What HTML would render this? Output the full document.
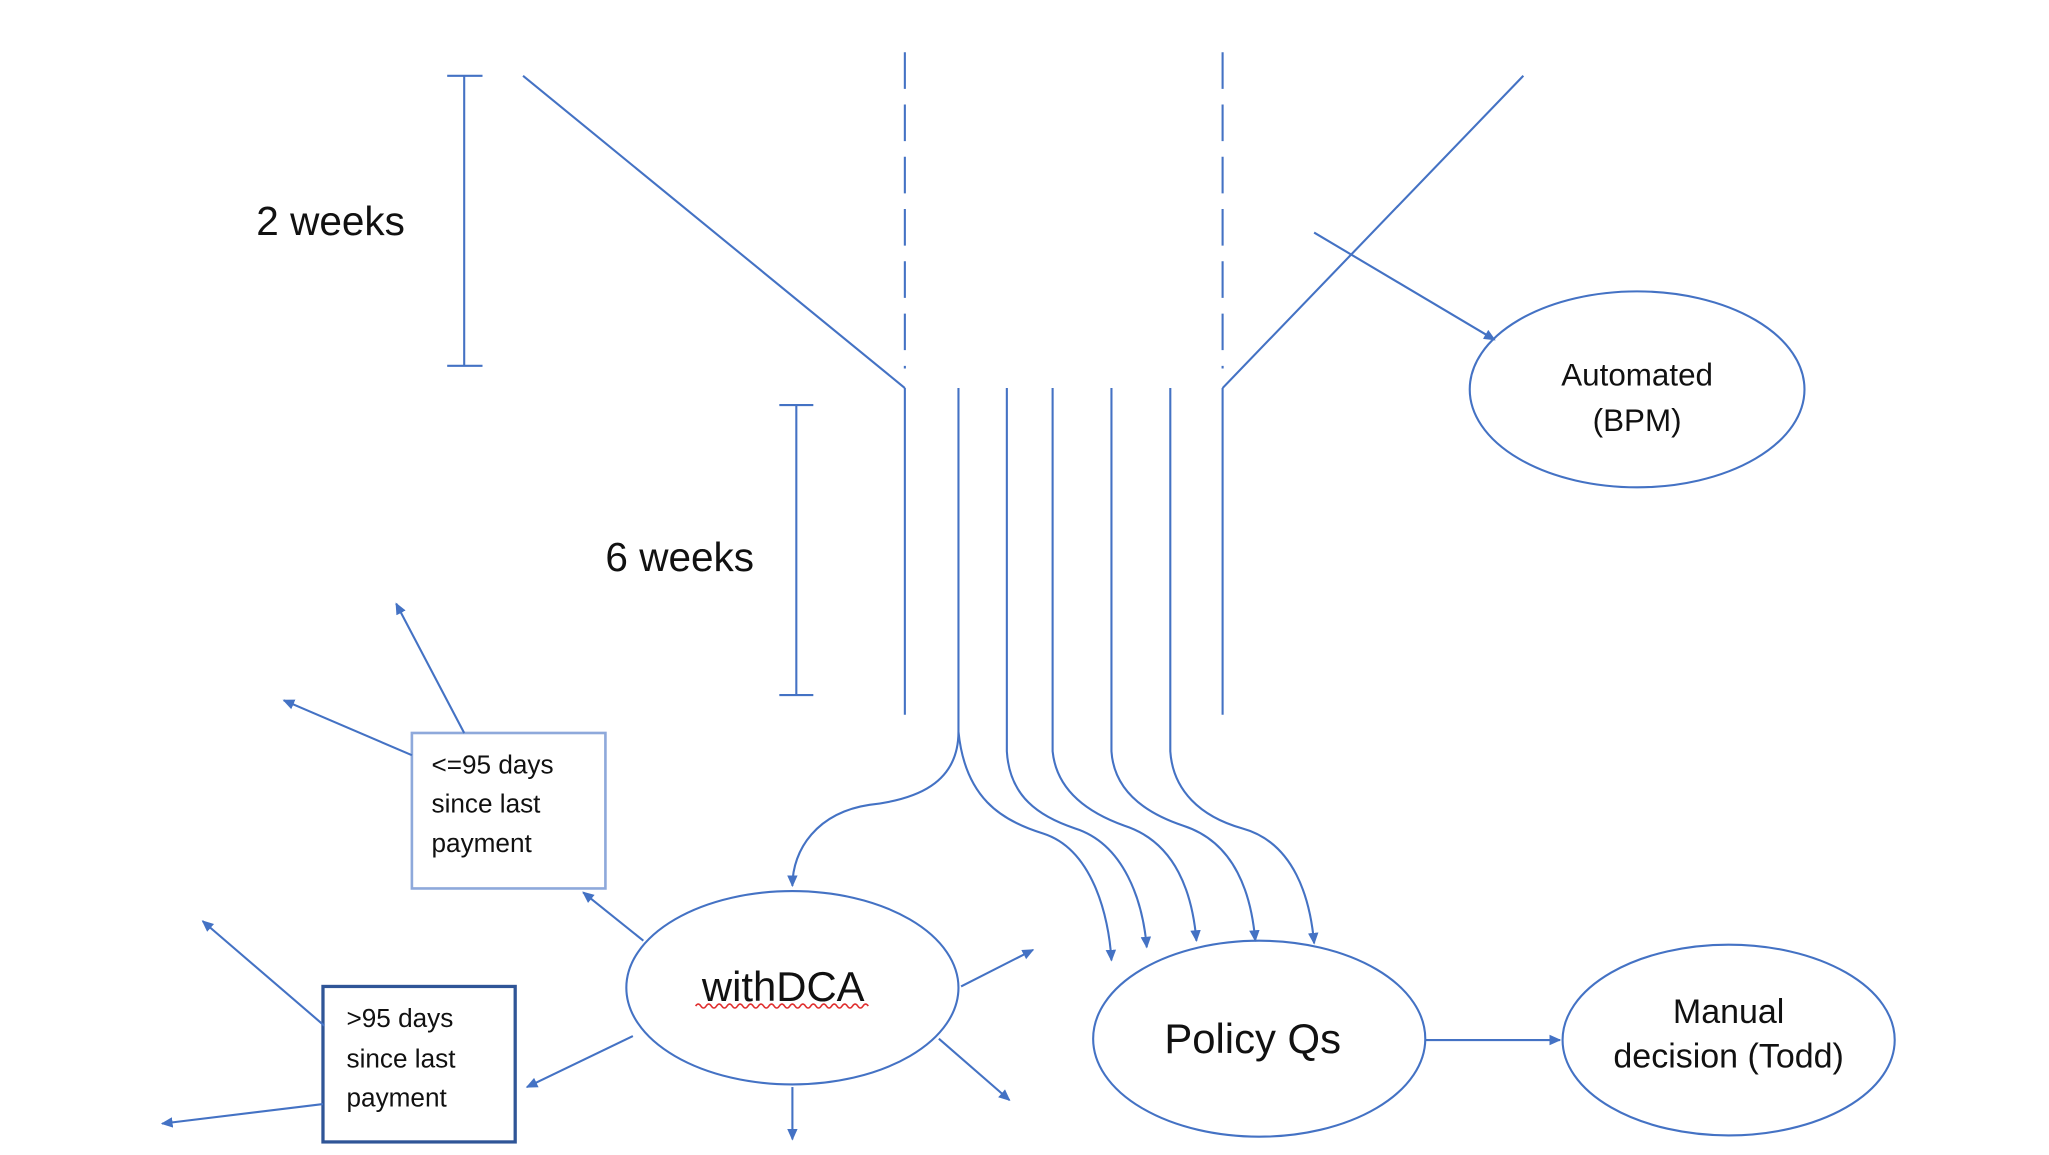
<!DOCTYPE html>
<html><head><meta charset="utf-8"><style>
html,body{margin:0;padding:0;background:#fff;}
svg{display:block;}
text{font-family:"Liberation Sans Narrow","Liberation Sans",sans-serif;fill:#111;}
</style></head><body>
<svg width="2049" height="1155" viewBox="0 0 1567 884" preserveAspectRatio="none" xmlns="http://www.w3.org/2000/svg">
<defs>
<marker id="a" markerWidth="10" markerHeight="10" refX="8" refY="5" orient="auto" markerUnits="userSpaceOnUse">
<path d="M0,1 L9,5 L0,9 Z" fill="#4472C4"/>
</marker>
</defs>
<g stroke="#4472C4" stroke-width="1.6" fill="none">
<line x1="355" y1="58" x2="355" y2="280"/>
<line x1="342" y1="58" x2="369" y2="58"/>
<line x1="342" y1="280" x2="369" y2="280"/>
<line x1="609" y1="310" x2="609" y2="532"/>
<line x1="596" y1="310" x2="622" y2="310"/>
<line x1="596" y1="532" x2="622" y2="532"/>
<line x1="400" y1="58" x2="692" y2="297"/>
<line x1="1165" y1="58" x2="935" y2="297"/>
<line x1="692" y1="40" x2="692" y2="282" stroke-dasharray="28,12"/>
<line x1="935" y1="40" x2="935" y2="282" stroke-dasharray="28,12"/>
<line x1="692" y1="297" x2="692" y2="547"/>
<line x1="935" y1="297" x2="935" y2="547"/>
<line x1="1005" y1="178" x2="1143" y2="260" marker-end="url(#a)"/>
<path d="M733,297 L733,560 C733,600 700,612 665,616 C625,622 606,650 606,678" marker-end="url(#a)"/>
<path d="M733,560 C738,610 765,628 798,638 C835,650 848,700 850,735" marker-end="url(#a)"/>
<path d="M770,297 L770,575 C772,610 795,625 822,634 C860,646 874,690 877,725" marker-end="url(#a)"/>
<path d="M805,297 L805,575 C808,605 832,622 860,632 C900,645 912,685 915,720" marker-end="url(#a)"/>
<path d="M850,297 L850,575 C852,605 875,622 905,632 C945,645 957,685 960,720" marker-end="url(#a)"/>
<path d="M895,297 L895,575 C897,605 918,625 950,634 C990,645 1002,688 1005,722" marker-end="url(#a)"/>
<ellipse cx="1252" cy="298" rx="128" ry="75"/>
<ellipse cx="963" cy="795" rx="127" ry="75"/>
<ellipse cx="1322" cy="796" rx="127" ry="73"/>
<ellipse cx="606" cy="756" rx="127" ry="74"/>
<line x1="1090" y1="796" x2="1193" y2="796" marker-end="url(#a)"/>
<line x1="492" y1="720" x2="446" y2="683" marker-end="url(#a)"/>
<line x1="484" y1="793" x2="403" y2="832" marker-end="url(#a)"/>
<line x1="606" y1="832" x2="606" y2="872" marker-end="url(#a)"/>
<line x1="718" y1="795" x2="772" y2="842" marker-end="url(#a)"/>
<line x1="735" y1="755" x2="790" y2="727" marker-end="url(#a)"/>
<rect x="315" y="561" width="148" height="119" stroke="#8EA9DB" stroke-width="2"/>
<rect x="247" y="755" width="147" height="119" stroke="#2F5597" stroke-width="2.5"/>
<line x1="355" y1="561" x2="303" y2="462" marker-end="url(#a)"/>
<line x1="315" y1="578" x2="217" y2="536" marker-end="url(#a)"/>
<line x1="248" y1="785" x2="155" y2="705" marker-end="url(#a)"/>
<line x1="247" y1="845" x2="124" y2="860" marker-end="url(#a)"/>
</g>
<path d="M532,770 q2,-3 4,0 t4,0 t4,0 t4,0 t4,0 t4,0 t4,0 t4,0 t4,0 t4,0 t4,0 t4,0 t4,0 t4,0 t4,0 t4,0 t4,0 t4,0 t4,0 t4,0 t4,0 t4,0 t4,0 t4,0 t4,0 t4,0 t4,0 t4,0 t4,0 t4,0 t4,0 t4,0 t4,0" stroke="#E03030" stroke-width="1.2" fill="none"/>
<text x="196" y="180" font-size="31">2 weeks</text>
<text x="463" y="437" font-size="31">6 weeks</text>
<text x="1252" y="295" font-size="24" text-anchor="middle">Automated</text>
<text x="1252" y="330" font-size="24" text-anchor="middle">(BPM)</text>
<text x="599" y="766" font-size="32" text-anchor="middle">withDCA</text>
<text x="958" y="806" font-size="32" text-anchor="middle">Policy Qs</text>
<text x="1322" y="783" font-size="26" text-anchor="middle">Manual</text>
<text x="1322" y="817" font-size="26" text-anchor="middle">decision (Todd)</text>
<text x="330" y="592" font-size="20">&lt;=95 days</text>
<text x="330" y="622" font-size="20">since last</text>
<text x="330" y="652" font-size="20">payment</text>
<text x="265" y="786" font-size="20">&gt;95 days</text>
<text x="265" y="817" font-size="20">since last</text>
<text x="265" y="847" font-size="20">payment</text>
</svg>
</body></html>
